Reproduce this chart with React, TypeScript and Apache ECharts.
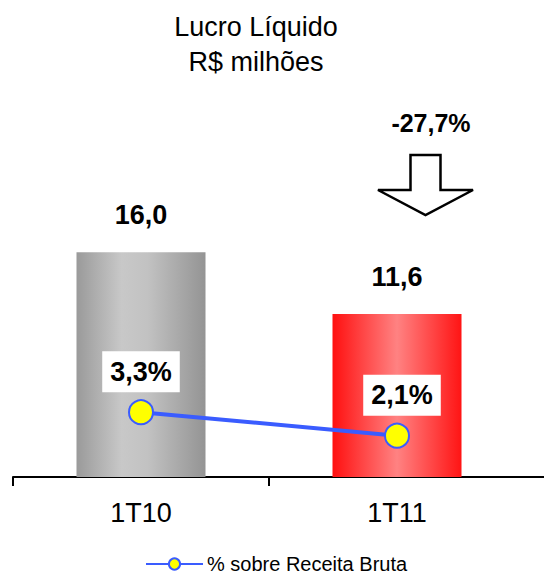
import React, { useEffect, useRef } from "react";
import * as echarts from "echarts";

const categories = ["1T10", "1T11"];
const lucroValues = [16.0, 11.6];
const lucroLabels = ["16,0", "11,6"];
const margemValues = [3.3, 2.1];
const margemLabels = ["3,3%", "2,1%"];
const variationLabel = "-27,7%";
const titleLines = ["Lucro Líquido", "R$ milhões"];
const lineName = "% sobre Receita Bruta";

const FONT = "'Liberation Sans', Arial, sans-serif";

const barGradients = [
  [
    { offset: 0, color: "#9a9a9a" },
    { offset: 0.35, color: "#c8c8c8" },
    { offset: 0.55, color: "#c2c2c2" },
    { offset: 1, color: "#949494" },
  ],
  [
    { offset: 0, color: "#ff1010" },
    { offset: 0.5, color: "#ff8282" },
    { offset: 1, color: "#ff1414" },
  ],
];

export default function App() {
  const ref = useRef<HTMLDivElement>(null);
  useEffect(() => {
    document.body.style.margin = "0";
    if (!ref.current) return;
    const chart = echarts.init(ref.current, null, { renderer: "svg" });
    const axisCats = [...categories, ""];
    const barData: any[] = lucroValues.map((v, i) => ({
      value: v,
      itemStyle: {
        color: new echarts.graphic.LinearGradient(0, 0, 1, 0, barGradients[i]),
      },
      label: { formatter: lucroLabels[i] },
    }));
    barData.push("-");
    const lineData: any[] = margemValues.map((v, i) => ({
      value: v,
      label: {
        formatter: margemLabels[i],
        offset: i === 1 ? [5, 0] : [0, 0],
      },
    }));
    lineData.push("-");
    chart.setOption({
      animation: false,
      textStyle: { fontFamily: FONT },
      grid: {
        left: 13,
        top: 196,
        height: 281,
        width: 768,
        containLabel: false,
        outerBoundsMode: "none",
      },
      legend: {
        data: [lineName],
        left: 145,
        top: 554,
        padding: 0,
        itemWidth: 57,
        itemHeight: 14,
        itemGap: 4,
        textStyle: { fontSize: 20, color: "#000", fontFamily: FONT, padding: [0, 0, 0, -1] },
      },
      xAxis: {
        type: "category",
        data: axisCats,
        boundaryGap: true,
        axisLine: { lineStyle: { color: "#000", width: 2 } },
        axisTick: {
          show: true,
          length: 9,
          lineStyle: { color: "#000", width: 2 },
          interval: (idx: number) => idx < categories.length,
        },
        axisLabel: {
          fontSize: 27,
          color: "#000",
          margin: 22,
          fontFamily: FONT,
        },
      },
      yAxis: [
        { type: "value", min: 0, max: 20, show: false },
        { type: "value", min: 0, max: 14.3, show: false },
      ],
      series: [
        {
          type: "bar",
          data: barData,
          barWidth: 129,
          yAxisIndex: 0,
          label: {
            show: true,
            position: "top",
            distance: 24,
            fontSize: 27,
            fontWeight: "bold",
            color: "#000",
            fontFamily: FONT,
          },
        },
        {
          type: "line",
          name: lineName,
          data: lineData,
          yAxisIndex: 1,
          symbol: "circle",
          symbolSize: 24,
          lineStyle: { color: "#3a5cff", width: 4 },
          itemStyle: { color: "#ffff00", borderColor: "#3a5cff", borderWidth: 2 },
          label: {
            show: true,
            position: "top",
            distance: 7,
            fontSize: 27,
            fontWeight: "bold",
            color: "#000",
            backgroundColor: "#fff",
            padding: [7, 8],
            fontFamily: FONT,
          },
        },
      ],
      graphic: [
        {
          type: "text",
          x: 256,
          y: 9,
          style: {
            text: titleLines.join("\n"),
            textAlign: "center",
            fontSize: 27,
            lineHeight: 35,
            fill: "#000",
            fontFamily: FONT,
          },
        },
        {
          type: "text",
          x: 431,
          y: 110,
          style: {
            text: variationLabel,
            textAlign: "center",
            fontSize: 25,
            fontWeight: "bold",
            fill: "#000",
            fontFamily: FONT,
          },
        },
        {
          type: "polygon",
          shape: {
            points: [
              [410.5, 155],
              [440.5, 155],
              [440.5, 190],
              [473, 190],
              [425.5, 215],
              [378, 190],
              [410.5, 190],
            ],
          },
          style: { fill: "#fff", stroke: "#000", lineWidth: 2.5, lineJoin: "miter" },
        },
      ],
    });
    return () => chart.dispose();
  }, []);
  return <div ref={ref} style={{ width: 544, height: 577 }} />;
}
